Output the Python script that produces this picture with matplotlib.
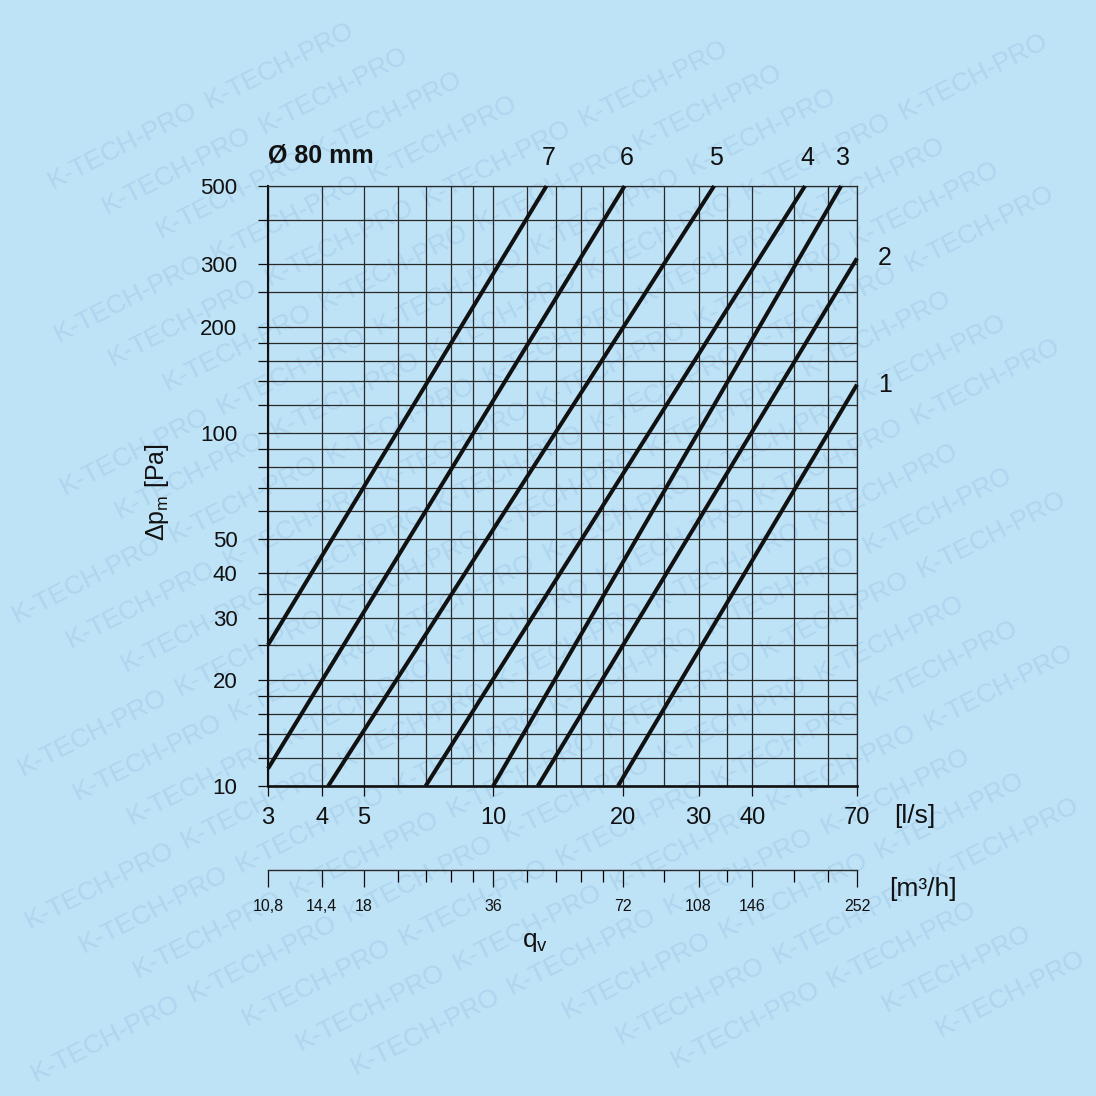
import numpy as np
import matplotlib
matplotlib.use('Agg')
import matplotlib.pyplot as plt
from matplotlib.ticker import FixedLocator, NullFormatter

# curves 1..7, straight lines on log-log paper: start point -> end point
curve_ids = ['1', '2', '3', '4', '5', '6', '7']
q_start = [19.5, 12.7, 10.0, 6.97, 4.14, 3.0, 3.0]      # l/s
dp_start = [10, 10, 10, 10, 10, 11.2, 25.1]             # Pa
q_end = [70, 70, 64.3, 53.0, 32.6, 20.2, 13.3]
dp_end = [137, 312, 500, 500, 500, 500, 500]

x_grid = [3, 4, 5, 6, 7, 8, 9, 10, 12, 14, 16, 18, 20, 25, 30, 35, 40, 50, 60, 70]
x_major = [3, 4, 5, 10, 20, 30, 40, 70]
y_grid = [10, 12, 14, 16, 18, 20, 25, 30, 35, 40, 50, 60, 70, 80, 90, 100,
          120, 140, 160, 180, 200, 250, 300, 400, 500]
y_major = [10, 20, 30, 40, 50, 100, 200, 300, 500]
m3h_labels = ['10,8', '14,4', '18', '36', '72', '108', '146', '252']

bg = '#bee2f6'
ink = '#111111'
narrow = ['Liberation Sans Narrow', 'Liberation Sans', 'DejaVu Sans']
plt.rcParams['font.family'] = ['Liberation Sans', 'DejaVu Sans']

W = 1096
fig = plt.figure(figsize=(10.96, 10.96), dpi=100, facecolor=bg)

# faint diagonal watermark, only whole words that fit inside the picture
ang = np.radians(27)
step = 176
wlen = 166
for k in range(-14, 40):
    y0 = 60 + k * 52
    shift = (k * 61) % step
    for j in range(-3, 16):
        d = -300 + shift + j * step
        x1 = d * np.cos(ang)
        y1 = y0 - d * np.sin(ang)
        x2 = x1 + wlen * np.cos(ang)
        y2 = y1 - wlen * np.sin(ang)
        if x1 < 14 or x2 > W - 6 or y2 < 28 or y1 > W - 8:
            continue
        fig.text(x1 / W, 1 - y1 / W, 'K-TECH-PRO', rotation=27,
                 rotation_mode='anchor', ha='left', va='baseline',
                 fontsize=19, color='#afd5ef', zorder=-1)

ax = fig.add_axes([268 / W, 1 - 786 / W, (857 - 268) / W, 600 / W])
ax.set_facecolor('none')
ax.set_xscale('log')
ax.set_yscale('log')
ax.set_xlim(3, 70)
ax.set_ylim(10, 500)

for x in x_grid:
    ax.axvline(x, color='#2a2a2a', lw=0.9, zorder=1)
for y in y_grid:
    ax.axhline(y, color='#2a2a2a', lw=0.9, zorder=1)

for i in range(len(curve_ids)):
    ax.plot([q_start[i], q_end[i]], [dp_start[i], dp_end[i]], color=ink,
            lw=2.9, solid_capstyle='butt', clip_on=False, zorder=3)
    if dp_end[i] >= 500:
        ax.annotate(curve_ids[i], (q_end[i], dp_end[i]), xytext=(2, 28),
                    textcoords='offset pixels', ha='center', va='center',
                    fontsize=18, color=ink)
    else:
        ax.annotate(curve_ids[i], (q_end[i], dp_end[i]), xytext=(28, 0),
                    textcoords='offset pixels', ha='center', va='center',
                    fontsize=18, color=ink)

ax.xaxis.set_major_locator(FixedLocator(x_major))
ax.xaxis.set_minor_locator(FixedLocator([]))
ax.set_xticklabels([str(v) for v in x_major], fontsize=17, family=narrow)
ax.tick_params(axis='x', which='major', direction='out', length=7, width=0.9,
               pad=8, colors=ink)

ax.yaxis.set_major_locator(FixedLocator(y_grid))
ax.yaxis.set_minor_locator(FixedLocator([]))
ax.set_yticklabels([str(v) if v in y_major else '' for v in y_grid], fontsize=16)
ax.tick_params(axis='y', which='major', direction='out', length=7, width=0.9,
               pad=15, colors=ink)

for s in ['top', 'right']:
    ax.spines[s].set_linewidth(0.9)
    ax.spines[s].set_color('#2a2a2a')
ax.spines['left'].set_linewidth(1.5)
ax.spines['bottom'].set_linewidth(1.9)
ax.spines['left'].set_color(ink)
ax.spines['bottom'].set_color(ink)

# second flow scale in m3/h
sec = ax.secondary_xaxis(-0.14, functions=(lambda q: q * 3.6, lambda m: m / 3.6))
sec.xaxis.set_major_locator(FixedLocator([q * 3.6 for q in x_major]))
sec.xaxis.set_minor_locator(FixedLocator([q * 3.6 for q in x_grid if q not in x_major]))
sec.xaxis.set_minor_formatter(NullFormatter())
sec.set_xticklabels(m3h_labels, fontsize=11.5, family=narrow)
sec.tick_params(axis='x', which='major', direction='out', length=12, width=0.9,
                pad=9, colors=ink)
sec.tick_params(axis='x', which='minor', direction='out', length=8.5, width=0.9)
sec.spines['bottom'].set_linewidth(1.0)
sec.spines['bottom'].set_color('#2a2a2a')

fig.text(268 / W, 1 - 155 / W, 'Ø 80 mm', fontsize=18, fontweight='bold',
         ha='left', va='center', color=ink)
fig.text(157 / W, 1 - 492 / W, 'Δp$_\\mathregular{m}$ [Pa]', rotation=90,
         fontsize=18, ha='center', va='center', color=ink)
fig.text(915 / W, 1 - 816 / W, '[l/s]', fontsize=19, family=narrow,
         ha='center', va='center', color=ink)
fig.text(923 / W, 1 - 889 / W, '[m³/h]', fontsize=19, family=narrow,
         ha='center', va='center', color=ink)
fig.text(535 / W, 1 - 942 / W, 'q$_\\mathregular{v}$', fontsize=19, family=narrow,
         ha='center', va='center', color=ink)

fig.savefig('out.png', dpi=100, facecolor=bg)
